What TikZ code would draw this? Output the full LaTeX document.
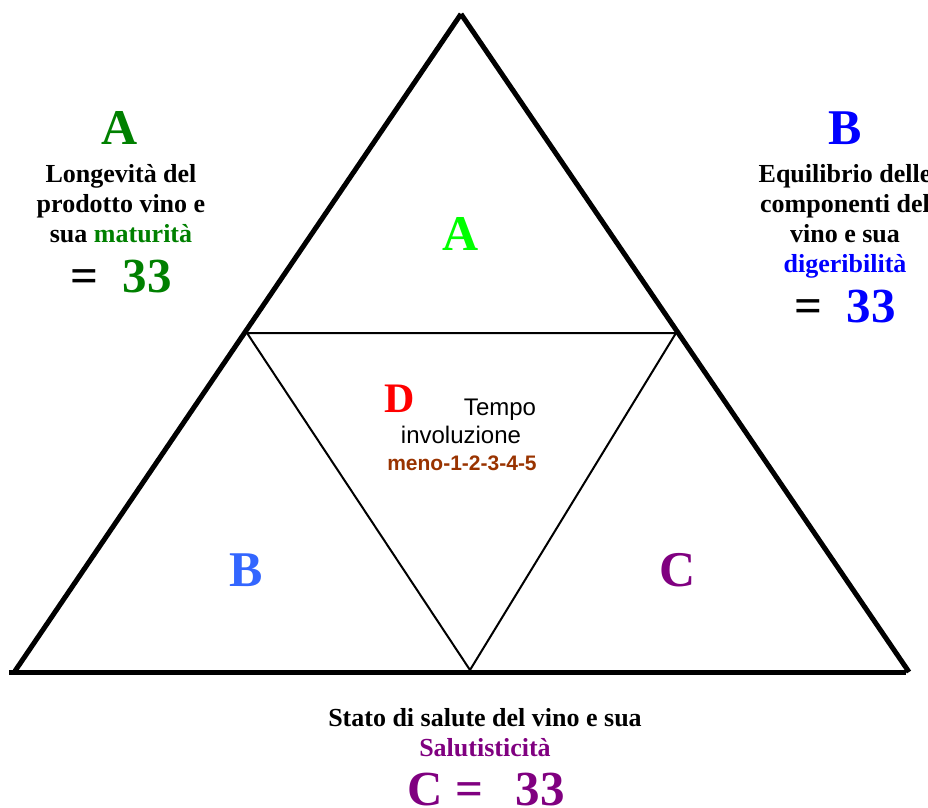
\documentclass[tikz,border=0pt]{standalone}
\usepackage{fontspec}
\setmainfont{Liberation Serif}
\newfontfamily\arialfont{Liberation Sans}
\usetikzlibrary{positioning}
\definecolor{LabelGreen}{HTML}{008000}
\definecolor{InnerGreen}{HTML}{00FF00}
\definecolor{LabelBlue}{HTML}{0000FF}
\definecolor{InnerBlue}{HTML}{3366FF}
\definecolor{LabelPurple}{HTML}{800080}
\definecolor{LabelRed}{HTML}{FF0000}
\definecolor{LabelBrown}{HTML}{993300}

\begin{document}
\begin{tikzpicture}[x=1pt,y=-1pt,line cap=butt,line join=miter,
  bigletter/.style={font=\fontsize{50}{60}\selectfont\bfseries,inner sep=0pt},
  bignumber/.style={font=\fontsize{49}{58}\selectfont\bfseries,inner sep=0pt},
  desc/.style={font=\fontsize{26}{30}\selectfont\bfseries,align=center,inner sep=0pt,anchor=north},
  sans/.style={font=\fontsize{24}{28}\selectfont\arialfont,inner sep=0pt,anchor=base}]
  \useasboundingbox (0,0) rectangle (928,807);
  \coordinate (T) at (461,14);
  \coordinate (L) at (15,671);
  \coordinate (R) at (909,672);
  \coordinate (ML) at (247,333);
  \coordinate (MR) at (676,333);
  \coordinate (MB) at (470,670);

  % outer triangle
  \draw[line width=5pt] (9,672) -- (906,672);
  \draw[line width=5pt] (T) -- (L);
  \draw[line width=5pt] (T) -- (R);
  % inner triangle
  \draw[line width=2pt] (ML) -- (MR) -- (MB) -- cycle;

  % letters inside
  \node[bigletter,InnerGreen] (innerA) at (461,234) {A};
  \node[bigletter,InnerBlue] (innerB) at (246,570) {B};
  \node[bigletter,LabelPurple] (innerC) at (678,570) {C};
  \node[font=\fontsize{42}{50}\selectfont\bfseries,inner sep=0pt,LabelRed] (innerD) at (400,399) {D};
  \node[sans] (tempo) at (500,415) {Tempo};
  \node[sans] (invol) at (461,443) {involuzione};
  \node[sans,font=\fontsize{21}{25}\selectfont\arialfont\bfseries,LabelBrown] (meno) at (462,470) {meno-1-2-3-4-5};

  % side labels
  \node[bigletter,LabelGreen] (labelA) at (120,128) {A};
  \node[desc] (descA) at (121,164) {Longevità del\\prodotto vino e\\sua \textcolor{LabelGreen}{maturità}};
  \node[bignumber] (valueA) at (121,277) {=\ \ \textcolor{LabelGreen}{33}};

  \node[bigletter,LabelBlue] (labelB) at (845,128) {B};
  \node[desc] (descB) at (845,164) {Equilibrio delle\\componenti del\\vino e sua\\\textcolor{LabelBlue}{digeribilità}};
  \node[bignumber] (valueB) at (845,307) {=\ \ \textcolor{LabelBlue}{33}};

  \node[desc] (descC) at (485,708) {Stato di salute del vino e sua\\\textcolor{LabelPurple}{Salutisticità}};
  \node[bignumber,LabelPurple] (valueC) at (486,789) {C\ =\ \ \,33};
\end{tikzpicture}
\end{document}
